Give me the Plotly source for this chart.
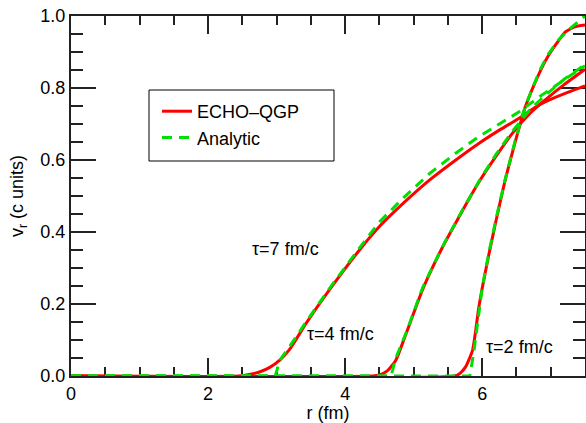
import plotly.graph_objects as go

# ---- data ----
r_echo_t7 = [0.0, 2.45, 2.6, 2.75, 2.9, 3.05, 3.19, 3.43, 3.77, 4.21, 4.5, 4.85, 5.23, 5.6, 5.95, 6.25, 6.54, 6.83, 7.1, 7.5]
v_echo_t7 = [0.0, 0.0, 0.004, 0.011, 0.024, 0.045, 0.074, 0.146, 0.239, 0.35, 0.415, 0.48, 0.544, 0.598, 0.646, 0.683, 0.716, 0.753, 0.777, 0.806]

r_ana_t7 = [0.0, 2.98, 3.05, 3.2, 3.43, 3.77, 4.21, 4.5, 4.85, 5.23, 5.6, 5.95, 6.25, 6.54, 6.83, 7.12, 7.5]
v_ana_t7 = [0.0, 0.0, 0.045, 0.085, 0.15, 0.243, 0.356, 0.428, 0.495, 0.562, 0.617, 0.665, 0.70, 0.734, 0.775, 0.813, 0.862]

r_echo_t4 = [0.0, 4.4, 4.5, 4.62, 4.74, 4.89, 5.13, 5.4, 5.7, 5.95, 6.2, 6.44, 6.7, 6.92, 7.2, 7.5]
v_echo_t4 = [0.0, 0.0, 0.003, 0.015, 0.044, 0.118, 0.24, 0.35, 0.455, 0.538, 0.61, 0.674, 0.73, 0.767, 0.81, 0.852]

r_ana_t4 = [0.0, 4.67, 4.74, 4.89, 5.13, 5.4, 5.7, 5.95, 6.2, 6.44, 6.7, 6.92, 7.2, 7.5]
v_ana_t4 = [0.0, 0.0, 0.05, 0.12, 0.245, 0.352, 0.457, 0.54, 0.615, 0.68, 0.74, 0.78, 0.825, 0.865]

r_echo_t2 = [0.0, 5.6, 5.68, 5.76, 5.86, 5.95, 6.0, 6.1, 6.2, 6.34, 6.49, 6.63, 6.83, 6.95, 7.12, 7.21, 7.35, 7.5]
v_echo_t2 = [0.0, 0.0, 0.008, 0.026, 0.072, 0.19, 0.244, 0.34, 0.43, 0.548, 0.656, 0.748, 0.84, 0.885, 0.933, 0.955, 0.97, 0.975]

r_ana_t2 = [0.0, 5.82, 5.88, 5.95, 6.0, 6.1, 6.2, 6.34, 6.49, 6.63, 6.83, 6.95, 7.12, 7.31, 7.5]
v_ana_t2 = [0.0, 0.0, 0.07, 0.18, 0.245, 0.345, 0.435, 0.55, 0.66, 0.75, 0.845, 0.89, 0.935, 0.97, 1.0]

curve_labels = ["τ=7 fm/c", "τ=4 fm/c", "τ=2 fm/c"]
label_r = [2.61, 3.41, 6.03]
label_v = [0.353, 0.117, 0.080]

series_names = ["ECHO–QGP", "Analytic"]
x_tick_vals = [0, 2, 4, 6]
y_tick_vals = [0.0, 0.2, 0.4, 0.6, 0.8, 1.0]

RED = "#ff0000"
GREEN = "#00e000"
FONT = "Liberation Sans, Arial, Helvetica, sans-serif"

fig = go.Figure()

echo = [(r_echo_t7, v_echo_t7), (r_echo_t4, v_echo_t4), (r_echo_t2, v_echo_t2)]
ana = [(r_ana_t7, v_ana_t7), (r_ana_t4, v_ana_t4), (r_ana_t2, v_ana_t2)]

for i, (rr, vv) in enumerate(echo):
    fig.add_trace(go.Scatter(x=rr, y=vv, mode="lines", name=series_names[0],
                             legendgroup="echo", showlegend=(i == 0),
                             line=dict(color=RED, width=3, shape="spline", smoothing=0.5)))
for i, (rr, vv) in enumerate(ana):
    fig.add_trace(go.Scatter(x=rr, y=vv, mode="lines", name=series_names[1],
                             legendgroup="ana", showlegend=(i == 0),
                             line=dict(color=GREEN, width=3, dash="10px,7px")))

for txt, xr, yv in zip(curve_labels, label_r, label_v):
    fig.add_annotation(x=xr, y=yv, text=txt, showarrow=False, xanchor="left",
                       yanchor="middle", font=dict(size=18, color="black", family=FONT))

# legend frame (plot area is 514 x 360 px)
fig.add_shape(type="rect", xref="paper", yref="paper",
              x0=(149 - 71) / 514, x1=(334 - 71) / 514,
              y0=(376 - 161) / 360, y1=(376 - 90) / 360,
              line=dict(color="black", width=1), fillcolor="white", layer="below")

axis_common = dict(showline=True, linecolor="#222", linewidth=2, mirror="allticks",
                   ticks="inside", tickwidth=2, tickcolor="#222", showgrid=False,
                   zeroline=False, layer="below traces", ticklabeloverflow="allow",
                   tickfont=dict(size=18, color="black", family=FONT))

fig.update_xaxes(range=[0, 7.5], tickvals=x_tick_vals, ticklen=18,
                 minor=dict(dtick=0.5, ticklen=9, tickwidth=2, tickcolor="#222", ticks="inside"),
                 title=dict(text="r (fm)", font=dict(size=18, family=FONT, color="black"), standoff=0),
                 **axis_common)
fig.update_yaxes(range=[0, 1.0], tickvals=y_tick_vals, tickformat=".1f", ticklen=25,
                 minor=dict(dtick=0.05, ticklen=12, tickwidth=2, tickcolor="#222", ticks="inside"),
                 title=dict(text="v<sub>r</sub> (c units)", font=dict(size=18, family=FONT, color="black"), standoff=12),
                 **axis_common)

fig.update_layout(
    width=586, height=423,
    margin=dict(l=71, r=1, t=16, b=47, autoexpand=False),
    plot_bgcolor="white", paper_bgcolor="white",
    font=dict(family=FONT, size=18, color="black"),
    showlegend=True,
    legend=dict(x=(157 - 71) / 514, y=(376 - 93) / 360, xanchor="left", yanchor="top",
                bgcolor="rgba(0,0,0,0)", borderwidth=0, tracegroupgap=0,
                font=dict(size=18, family=FONT, color="black")),
)

fig.write_html("out.html",
               config={"displayModeBar": False},
               post_script="document.body.style.margin='0';document.body.style.overflow='hidden';")
